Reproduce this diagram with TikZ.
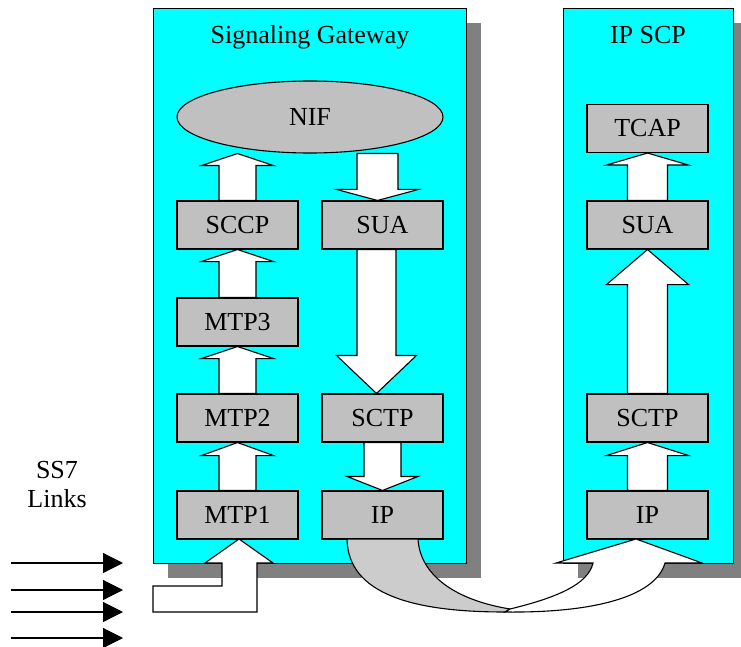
\documentclass[tikz,border=0pt]{standalone}
\usepackage{fontspec}
\setmainfont{Liberation Serif}
\usetikzlibrary{shapes.geometric,arrows.meta,calc}
\definecolor{panelcyan}{HTML}{00FFFF}
\definecolor{layergray}{HTML}{C0C0C0}
\definecolor{shadowgray}{HTML}{808080}
\definecolor{curvegray}{HTML}{CCCCCC}

% Block arrow pointing up: #1 tail, #2 tip, #3 half shaft, #4 half head, #5 head length
\newcommand{\blockup}[5]{%
  \draw[blockarrow] let \p1=(#1), \p2=(#2) in
    (\x2-#3pt,\y1) -- (\x2-#3pt,\y2-#5pt) -- (\x2-#4pt,\y2-#5pt) -- (\x2,\y2)
    -- (\x2+#4pt,\y2-#5pt) -- (\x2+#3pt,\y2-#5pt) -- (\x2+#3pt,\y1) -- cycle;}
% Block arrow pointing down, same arguments
\newcommand{\blockdown}[5]{%
  \draw[blockarrow] let \p1=(#1), \p2=(#2) in
    (\x2-#3pt,\y1) -- (\x2-#3pt,\y2+#5pt) -- (\x2-#4pt,\y2+#5pt) -- (\x2,\y2)
    -- (\x2+#4pt,\y2+#5pt) -- (\x2+#3pt,\y2+#5pt) -- (\x2+#3pt,\y1) -- cycle;}

\begin{document}
\begin{tikzpicture}[x=1pt,y=-1pt,
  panel/.style={draw=black,line width=0.8pt,fill=panelcyan},
  panelshadow/.style={fill=shadowgray},
  layer/.style={draw=black,line width=1.1pt,fill=layergray,minimum width=121pt,
    minimum height=48pt,inner sep=0pt,font=\fontsize{26}{30}\selectfont},
  blockarrow/.style={draw=black,line width=1.1pt,fill=white,line join=miter},
  title/.style={font=\fontsize{26}{30}\selectfont,anchor=base},
  link/.style={line width=1.2pt,-{Triangle[length=20pt,width=20pt]}}
]
\useasboundingbox (0,0) rectangle (741,647);

% panels with drop shadows
\fill[panelshadow] (168,23) rectangle (481,578);
\fill[panelshadow] (578,23) rectangle (741,578);
\draw[panel] (153,8) rectangle (466,563);
\draw[panel] (563,8) rectangle (733,563);

\node[title] (sgtitle) at (310,44) {Signaling Gateway};
\node[title] (scptitle) at (648,44) {IP SCP};

% protocol layers
\node[ellipse,draw=black,fill=layergray,line width=1.1pt,minimum width=266pt,
  minimum height=72pt,inner sep=0pt,font=\fontsize{26}{30}\selectfont] (nif) at (310,117) {NIF};
\node[layer] (sccp)  at (237.5,225) {SCCP};
\node[layer] (sual)  at (382.5,225) {SUA};
\node[layer] (mtp3)  at (237.5,322) {MTP3};
\node[layer] (mtp2)  at (237.5,418) {MTP2};
\node[layer] (sctpl) at (382.5,418) {SCTP};
\node[layer] (mtp1)  at (237.5,515) {MTP1};
\node[layer] (ipl)   at (382.5,515) {IP};
\node[layer] (tcap)  at (647.5,128.5) {TCAP};
\node[layer] (suar)  at (647.5,225) {SUA};
\node[layer] (sctpr) at (647.5,418) {SCTP};
\node[layer] (ipr)   at (647.5,515) {IP};

% ends of the arrows on the gateway's IP side
\coordinate (nifout) at ($(sual.north)+(-5,0)$);
\coordinate (nifoutbase) at (nifout |- nif.south);
\coordinate (suaout) at ($(sual.south)+(-6,0)$);
\coordinate (sctpin) at ($(sctpl.north)+(-6,0)$);

% gateway stack, SS7 side
\blockup{sccp.north}{sccp.north |- nif.south}{18.5}{36}{12}
\blockup{mtp3.north}{sccp.south}{18.5}{36}{12}
\blockup{mtp2.north}{mtp3.south}{18.5}{36}{12}
\blockup{mtp1.north}{mtp2.south}{18.5}{36}{13}
% gateway stack, IP side
\blockdown{nifoutbase}{nifout}{20.5}{41}{11}
\blockdown{suaout}{sctpin}{19.5}{40}{38}
\blockdown{sctpl.south}{ipl.north}{18.5}{35.5}{14}
% SCP stack
\blockup{suar.north}{tcap.south}{20}{41}{12}
\blockup{sctpr.north}{suar.south}{20}{41}{35}
\blockup{ipr.north}{sctpr.south}{20}{41}{13}

% curved transfer from gateway IP to SCP IP
\draw[line width=1.1pt,fill=curvegray]
  (347,539) .. controls (348,595) and (415,612) .. (505,612) -- (510,609)
  .. controls (455,600) and (420,575) .. (418,539) -- cycle;
\draw[blockarrow]
  (510,609) .. controls (555,598) and (588,585) .. (593,563)
  -- (556,563) -- (636,539) -- (702,563) -- (665,563)
  .. controls (655,598) and (590,613) .. (505,612) -- cycle;

% bent arrow feeding MTP1
\draw[blockarrow] (153,586) -- (222,586) -- (222,563) -- (205,563) -- (239,539)
  -- (273,563) -- (257,563) -- (257,612) -- (153,612) -- cycle;

% SS7 links
\node[align=center,font=\fontsize{26}{29}\selectfont] (ss7) at (57,485) {SS7\\Links};
\coordinate (l1a) at (11,563); \coordinate (l1b) at (123,563);
\coordinate (l2a) at (11,590); \coordinate (l2b) at (123,590);
\coordinate (l3a) at (11,612); \coordinate (l3b) at (123,612);
\coordinate (l4a) at (11,638); \coordinate (l4b) at (123,638);
\draw[link] (l1a) -- (l1b);
\draw[link] (l2a) -- (l2b);
\draw[link] (l3a) -- (l3b);
\draw[link] (l4a) -- (l4b);
\end{tikzpicture}
\end{document}
